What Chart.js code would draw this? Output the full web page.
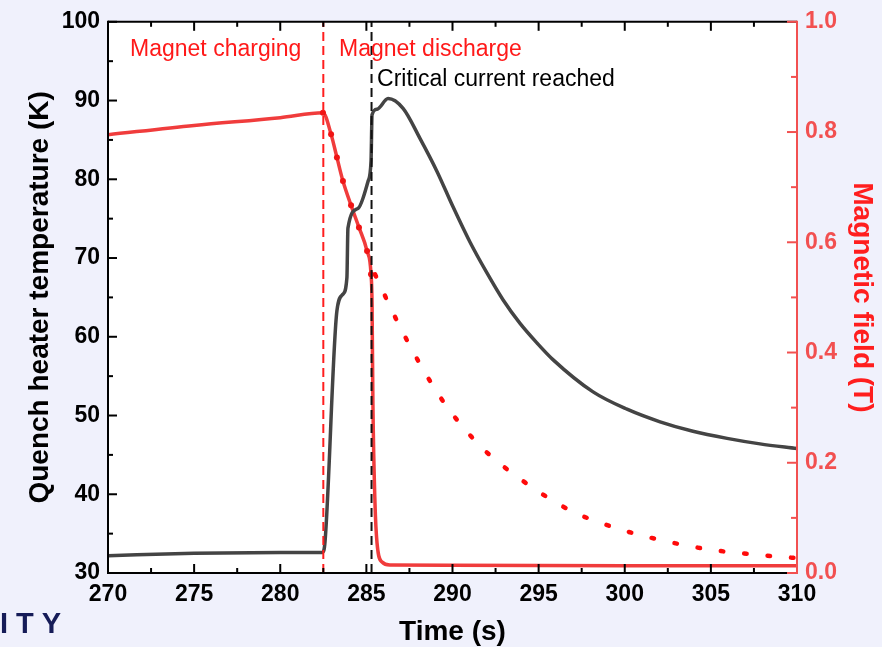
<!DOCTYPE html>
<html>
<head>
<meta charset="utf-8">
<script src="https://cdn.jsdelivr.net/npm/chart.js@4.4.1/dist/chart.umd.min.js"></script>
<style>
  html, body { margin: 0; padding: 0; background: #f0f1fc; }
  #wrap { width: 882px; height: 647px; }
</style>
</head>
<body>
<div id="wrap"><canvas id="chartQuench" width="882" height="647"></canvas></div>
<script>
// quench heater temperature (K), left axis
const tempTime = [270, 275, 280, 282.45, 282.6, 283.29, 283.64, 283.87, 283.93, 284.51, 285.09, 285.27, 285.33, 285.62, 286.26, 287.13, 288.11, 289.10, 290.03, 291.02, 292.0, 292.93, 293.92, 294.91, 295.83, 298.16, 300.13, 302.05, 303.96, 305.94, 307.85, 310];
const tempK = [32.2, 32.5, 32.6, 32.6, 34.0, 63.3, 65.4, 67.5, 73.8, 76.3, 79.7, 82.3, 88.2, 88.9, 90.25, 89.0, 85.2, 81.0, 76.5, 72.0, 68.1, 64.7, 61.7, 59.2, 57.1, 53.0, 50.8, 49.2, 48.0, 47.1, 46.4, 45.8];

// magnetic field (T), right axis - measured
const fieldTime = [270, 275, 280, 282.48, 282.95, 283.29, 283.64, 284.11, 284.57, 285.04, 285.27, 285.33, 285.38, 285.50, 285.62, 285.91, 286.37, 290, 300, 310];
const fieldT = [0.795, 0.812, 0.826, 0.835, 0.796, 0.754, 0.711, 0.667, 0.627, 0.584, 0.542, 0.488, 0.307, 0.127, 0.054, 0.020, 0.0145, 0.014, 0.013, 0.013];

// magnetic field (T), dotted decay
const decayTime = [285.5, 286.72, 288.06, 289.51, 291.19, 292.24, 294.5, 296.94, 299.55, 302.05, 304.83, 307.68, 310];
const decayT = [0.542, 0.461, 0.382, 0.309, 0.244, 0.212, 0.158, 0.112, 0.081, 0.060, 0.043, 0.033, 0.027];

// event markers (s)
const chargeEnd = 282.5;
const criticalAt = 285.3;

const xTicks = [270, 275, 280, 285, 290, 295, 300, 305, 310];
const yTicks = [30, 40, 50, 60, 70, 80, 90, 100];
const y2Ticks = [0, 0.2, 0.4, 0.6, 0.8, 1.0];

const FONT = "'Liberation Sans', Arial, sans-serif";
const RED = 'rgb(240,60,60)';
const AXRED = 'rgb(242,80,80)';

const pairs = (xs, ys) => xs.map((v, i) => ({x: v, y: ys[i]}));

const background = {
  id: 'background',
  beforeDraw(chart) {
    const {ctx, chartArea: a} = chart;
    ctx.save();
    ctx.fillStyle = '#f0f1fc';
    ctx.fillRect(0, 0, chart.width, chart.height);
    ctx.fillStyle = '#ffffff';
    ctx.fillRect(a.left, a.top, a.right - a.left, a.bottom - a.top);
    ctx.restore();
  }
};

const frameTicks = {
  id: 'frameTicks',
  afterDatasetsDraw(chart) {
    const {ctx, chartArea: a, scales: {x, y, y2}} = chart;
    const seg = (x1, y1, x2, y2_) => { ctx.beginPath(); ctx.moveTo(x1, y1); ctx.lineTo(x2, y2_); ctx.stroke(); };
    ctx.save();
    ctx.lineWidth = 2;
    ctx.strokeStyle = '#000';
    for (let i = 0; i <= 16; i++) {
      const px = x.getPixelForValue(270 + i * 2.5);
      const len = i % 2 === 0 ? 9 : 5;
      seg(px, a.bottom, px, a.bottom - len);
      seg(px, a.top, px, a.top + len);
    }
    for (let i = 0; i <= 14; i++) {
      const py = y.getPixelForValue(30 + i * 5);
      seg(a.left, py, a.left + (i % 2 === 0 ? 9 : 5), py);
    }
    seg(a.left, a.top, a.right, a.top);
    seg(a.left, a.top - 1, a.left, a.bottom + 1);
    seg(a.left - 1, a.bottom, a.right, a.bottom);
    ctx.strokeStyle = AXRED;
    for (let i = 0; i <= 10; i++) {
      const py = y2.getPixelForValue(i / 10);
      seg(a.right, py, a.right - (i % 2 === 0 ? 10 : 6), py);
    }
    seg(a.right, a.top - 1, a.right, a.bottom + 1);
    ctx.restore();
  }
};

const notes = {
  id: 'notes',
  afterDraw(chart) {
    const {ctx, scales: {x, y}} = chart;
    ctx.save();
    ctx.font = '23px ' + FONT;
    ctx.textBaseline = 'alphabetic';
    ctx.textAlign = 'left';
    ctx.fillStyle = 'rgb(255,25,25)';
    ctx.fillText('Magnet charging', x.getPixelForValue(271.28), y.getPixelForValue(95.7));
    ctx.fillText('Magnet discharge', x.getPixelForValue(283.41), y.getPixelForValue(95.7));
    ctx.fillStyle = '#000';
    ctx.fillText('Critical current reached', x.getPixelForValue(285.62), y.getPixelForValue(91.8));
    // slide footer fragment
    ctx.font = 'bold 29px ' + FONT;
    ctx.letterSpacing = '8px';
    ctx.fillStyle = 'rgb(22,28,88)';
    ctx.fillText('ITY', 0, 633);
    ctx.restore();
  }
};

const ctxEl = document.getElementById('chartQuench');
const chartQuench = new Chart(ctxEl, {
  type: 'line',
  data: {
    datasets: [
      {
        label: 'charge end',
        data: [{x: chargeEnd, y: 30}, {x: chargeEnd, y: 100}],
        yAxisID: 'y',
        borderColor: 'rgb(255,30,30)',
        borderWidth: 2,
        borderDash: [9, 5],
        pointRadius: 0
      },
      {
        label: 'critical current',
        data: [{x: criticalAt, y: 30}, {x: criticalAt, y: 100}],
        yAxisID: 'y',
        borderColor: '#111',
        borderWidth: 2,
        borderDash: [9, 5],
        pointRadius: 0
      },
      {
        label: 'Quench heater temperature',
        data: pairs(tempTime, tempK),
        yAxisID: 'y',
        borderColor: 'rgb(68,68,68)',
        borderWidth: 3.5,
        pointRadius: 0,
        cubicInterpolationMode: 'monotone'
      },
      {
        label: 'Magnetic field',
        data: pairs(fieldTime, fieldT),
        yAxisID: 'y2',
        borderColor: RED,
        backgroundColor: 'rgb(240,20,20)',
        borderWidth: 3.5,
        pointRadius: c => (c.dataIndex >= 3 && c.dataIndex <= 10) ? 3 : 0,
        pointBorderWidth: 0,
        cubicInterpolationMode: 'monotone'
      },
      {
        label: 'Magnetic field decay',
        data: pairs(decayTime, decayT),
        yAxisID: 'y2',
        borderColor: 'rgb(255,10,10)',
        borderWidth: 4.5,
        borderDash: [2.5, 21],
        borderCapStyle: 'round',
        pointRadius: 0,
        cubicInterpolationMode: 'monotone'
      }
    ]
  },
  options: {
    responsive: false,
    animation: false,
    layout: { padding: { top: 20, left: 0, right: 0, bottom: 0 } },
    plugins: { legend: { display: false }, tooltip: { enabled: false } },
    scales: {
      x: {
        type: 'linear',
        min: 270, max: 310,
        afterFit: s => { s.height = 74; },
        afterBuildTicks: s => { s.ticks = xTicks.map(v => ({value: v})); },
        grid: { display: false, drawTicks: false },
        border: { display: false },
        ticks: { padding: 8, color: '#000', font: { family: FONT, size: 23, weight: 'bold' } },
        title: { display: true, text: 'Time (s)', color: '#000', padding: { top: 0, bottom: 1 },
                 font: { family: FONT, size: 28, weight: 'bold', lineHeight: 1 } }
      },
      y: {
        position: 'left',
        min: 30, max: 100,
        afterFit: s => { s.width = 108; },
        afterBuildTicks: s => { s.ticks = yTicks.map(v => ({value: v})); },
        grid: { display: false, drawTicks: false },
        border: { display: false },
        ticks: { padding: 8, color: '#000', font: { family: FONT, size: 23, weight: 'bold' } },
        title: { display: true, text: 'Quench heater temperature (K)', color: '#000', padding: { top: 26, bottom: 0 },
                 font: { family: FONT, size: 28, weight: 'bold', lineHeight: 1 } }
      },
      y2: {
        position: 'right',
        min: 0, max: 1,
        afterFit: s => { s.width = 85; },
        afterBuildTicks: s => { s.ticks = y2Ticks.map(v => ({value: v})); },
        grid: { display: false, drawTicks: false },
        border: { display: false },
        ticks: { padding: 8, color: AXRED, callback: v => v.toFixed(1),
                 font: { family: FONT, size: 23, weight: 'bold' } },
        title: { display: true, text: 'Magnetic field (T)', color: 'rgb(255,30,30)', padding: { top: 6, bottom: 0 },
                 font: { family: FONT, size: 28, weight: 'bold', lineHeight: 1 } }
      }
    }
  },
  plugins: [background, frameTicks, notes]
});
</script>
</body>
</html>
